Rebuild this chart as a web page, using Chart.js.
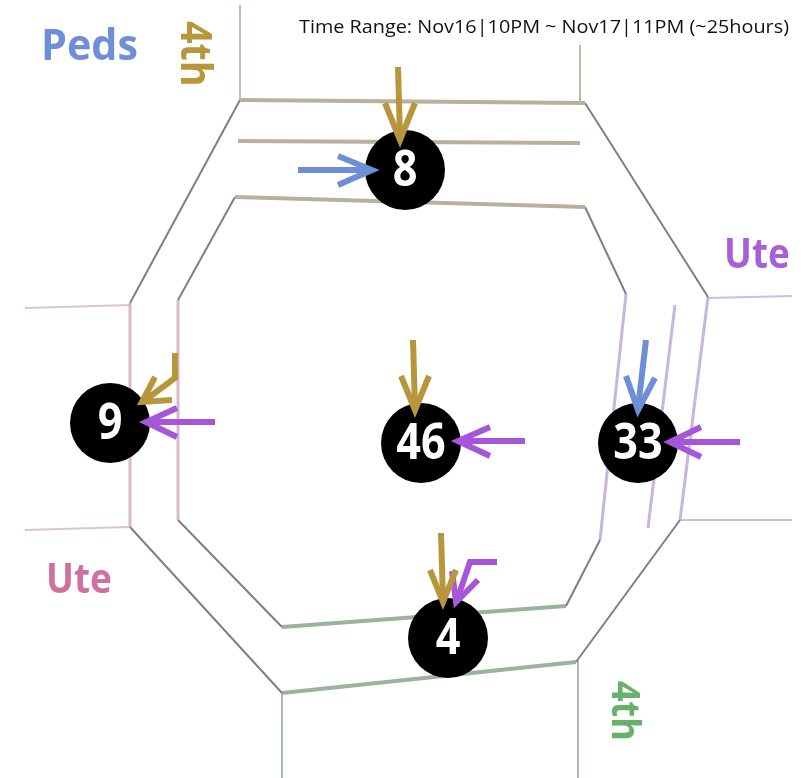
<!DOCTYPE html>
<html>
<head>
<meta charset="utf-8">
<script src="https://cdn.jsdelivr.net/npm/chart.js@4"></script>
<style>
html,body{margin:0;padding:0;background:#fff;}
canvas{display:block;}
</style>
</head>
<body>
<canvas id="c" width="808" height="778"></canvas>
<script>
// ---- data ----
const counts = [8, 9, 46, 33, 4];
const nodeX = [405, 110, 421, 638, 448];
const nodeY = [170, 423, 443, 443, 638];
const titleText = 'Time Range: Nov16|10PM ~ Nov17|11PM (~25hours)';
const streetLabels = ['Peds', '4th', 'Ute', 'Ute', '4th'];

// road polylines (diagram coordinates)
const roadTop = [
  [[240,5],[240,100]], [[580,45],[580,103]],
  [[240,100],[585,103]], [[238,141],[580,143]], [[235,197],[585,207]]
];
const roadDiag = [
  [[240,100],[130,303]], [[235,197],[178,300]],
  [[585,103],[708,297]], [[585,207],[626,294]],
  [[130,527],[282,693]], [[178,520],[282,627]],
  [[680,520],[576,662]], [[600,540],[566,606]]
];
const roadLeft = [
  [[130,303],[130,527]], [[178,300],[178,520]]
];
const roadLeftEnds = [
  [[25,308],[130,305]], [[25,530],[130,527]]
];
const roadRight = [
  [[626,294],[600,540]], [[675,305],[648,528]], [[708,297],[680,520]]
];
const roadRightEnds = [
  [[708,298],[792,296]], [[680,520],[792,520]]
];
const roadBottom = [
  [[282,627],[566,606]], [[282,693],[576,662]]
];
const roadBottomEnds = [
  [[282,693],[282,778]], [[578,660],[578,778]]
];

// arrows: shaft polyline and head [barb, tip, barb]
const tanShafts = [
  [[398,67],[400,138]], [[175,353],[175,378],[144,401]],
  [[413,340],[415,408]], [[441,533],[443,600]]
];
const tanHeads = [
  [[385,103],[400,140],[415,103]], [[155,377],[142,402],[172,400]],
  [[401,376],[415,410],[429,376]], [[430,570],[443,602],[456,570]]
];
const blueShafts = [
  [[298,170],[370,170]], [[646,340],[638,408]]
];
const blueHeads = [
  [[338,156],[372,170],[338,185]], [[626,376],[638,410],[655,378]]
];
const purpleShafts = [
  [[215,422],[148,422]], [[525,441],[460,441]],
  [[740,442],[672,442]], [[497,562],[470,562],[457,600]]
];
const purpleHeads = [
  [[177,408],[146,422],[177,437]], [[490,427],[458,441],[490,456]],
  [[701,427],[670,442],[701,457]], [[478,580],[456,602],[452,571]]
];

// ---- build datasets ----
const datasets = [];
function addLines(list, color, width, order, cap) {
  list.forEach(pts => {
    datasets.push({
      data: pts.map(p => ({x: p[0], y: p[1]})),
      showLine: true,
      borderColor: color,
      borderWidth: width,
      pointRadius: 0,
      pointHoverRadius: 0,
      borderCapStyle: cap || 'butt',
      borderJoinStyle: 'miter',
      tension: 0,
      order: order,
      clip: false
    });
  });
}
addLines(roadTop.slice(0,2), '#c4baa2', 2, 5);
addLines(roadTop.slice(2), '#b9b09c', 4, 5);
addLines(roadDiag, '#7f7f7f', 2, 5);
addLines(roadLeft, '#d8b8cb', 3, 5);
addLines(roadLeftEnds, '#dcc3d2', 2, 5);
addLines(roadRight, '#c8b6e0', 3, 5);
addLines(roadRightEnds, '#cdbde3', 2, 5);
addLines(roadBottom, '#9cb39b', 4, 5);
addLines(roadBottomEnds, '#aabcaa', 2, 5);

datasets.push({
  data: counts.map((c, i) => ({x: nodeX[i], y: nodeY[i]})),
  showLine: false,
  pointRadius: 40,
  pointHoverRadius: 40,
  pointBackgroundColor: '#000',
  pointBorderColor: '#000',
  pointBorderWidth: 0,
  order: 3,
  clip: false
});

const tan = '#b8963b', blue = '#6e8fd8', purple = '#a657d9';
addLines(tanShafts, tan, 6, 1);
addLines(tanHeads, tan, 6, 1);
addLines(blueShafts, blue, 6, 1);
addLines(blueHeads, blue, 6, 1);
addLines(purpleShafts, purple, 6, 1);
addLines(purpleHeads, purple, 6, 1);

const textPlugin = {
  id: 'texts',
  afterDatasetsDraw(chart) {
    const ctx = chart.ctx;
    const xs = chart.scales.x, ys = chart.scales.y;
    ctx.save();
    ctx.fillStyle = '#fff';
    ctx.textAlign = 'center';
    ctx.textBaseline = 'middle';
    ctx.font = 'bold 48px "Open Sans"';
    counts.forEach((c, i) => {
      const px = xs.getPixelForValue(nodeX[i]), py = ys.getPixelForValue(nodeY[i]) + 2;
      ctx.save();
      ctx.translate(px, py);
      ctx.scale(0.9, 1.05);
      ctx.fillText(String(c), 0, 0);
      ctx.restore();
    });
    // title
    ctx.fillStyle = '#111';
    ctx.textAlign = 'left';
    ctx.textBaseline = 'alphabetic';
    ctx.font = '18px "Open Sans"';
    let w = ctx.measureText(titleText).width;
    ctx.save();
    ctx.translate(299, 33);
    ctx.scale(490 / w, 1);
    ctx.fillText(titleText, 0, 0);
    ctx.restore();
    // street labels (slightly condensed)
    function label(txt, x, y, color, size, sx, rot) {
      ctx.save();
      ctx.translate(x, y);
      if (rot) ctx.rotate(rot);
      ctx.scale(sx, 1);
      ctx.fillStyle = color;
      ctx.font = 'bold ' + size + 'px "Open Sans"';
      ctx.fillText(txt, 0, 0);
      ctx.restore();
    }
    label(streetLabels[0], 41, 60, blue, 43, 0.96);
    label(streetLabels[2], 724, 268, '#a85fd8', 41, 0.9);
    label(streetLabels[3], 46, 593, '#d0709e', 41, 0.9);
    label(streetLabels[1], 181, 21, tan, 43, 0.92, Math.PI / 2);
    label(streetLabels[4], 612, 681, '#69b06a', 40, 0.9, Math.PI / 2);
    ctx.restore();
  }
};

new Chart(document.getElementById('c'), {
  type: 'scatter',
  data: { datasets },
  options: {
    responsive: false,
    animation: false,
    events: [],
    layout: { padding: 0, autoPadding: false },
    plugins: { legend: { display: false }, tooltip: { enabled: false } },
    scales: {
      x: { type: 'linear', min: 0, max: 808, display: false },
      y: { type: 'linear', min: 0, max: 778, reverse: true, display: false }
    }
  },
  plugins: [textPlugin]
});
</script>
</body>
</html>
